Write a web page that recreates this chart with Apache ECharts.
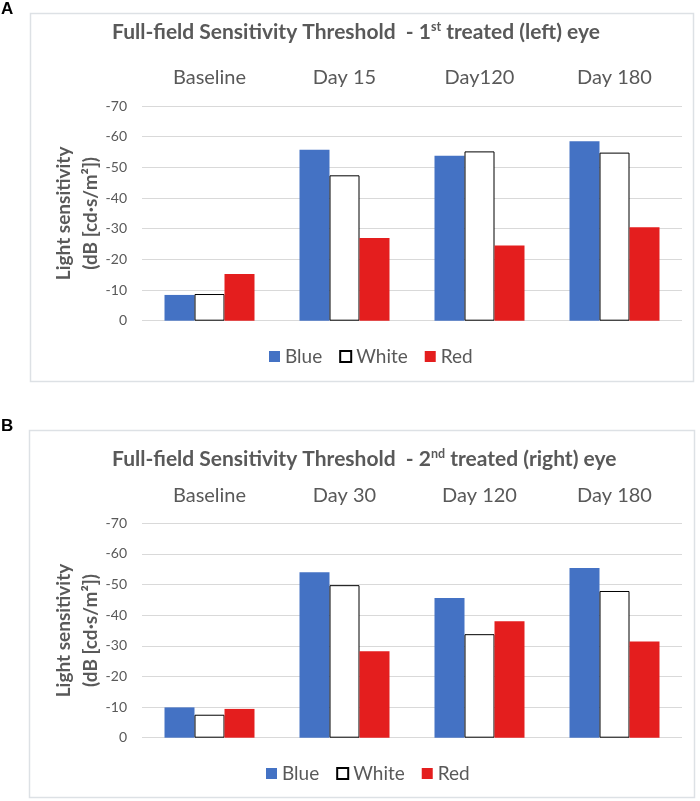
<!DOCTYPE html>
<html>
<head>
<meta charset="utf-8">
<script src="https://cdn.jsdelivr.net/npm/echarts@6/dist/echarts.min.js"></script>
<style>
html,body{margin:0;padding:0;background:#fff;}
#chart{width:700px;height:801px;}
</style>
</head>
<body>
<div id="chart"></div>
<script>
// ---- Data ----
const seriesNames = ['Blue', 'White', 'Red'];
const categoriesA = ['Baseline', 'Day 15', 'Day120', 'Day 180'];
const blueA  = [-8.4, -55.7, -53.8, -58.5];
const whiteA = [-8.7, -47.4, -55.2, -54.8];
const redA   = [-15.2, -27.0, -24.5, -30.5];
const categoriesB = ['Baseline', 'Day 30', 'Day 120', 'Day 180'];
const blueB  = [-9.9, -54.0, -45.6, -55.4];
const whiteB = [-7.5, -49.8, -33.8, -47.9];
const redB   = [-9.4, -28.2, -38.0, -31.4];
const yTicks = [-70, -60, -50, -40, -30, -20, -10, 0];
const titleA = ['Full-field Sensitivity Threshold  - 1', 'st', ' treated (left) eye'];
const titleB = ['Full-field Sensitivity Threshold  - 2', 'nd', ' treated (right) eye'];
const yName = 'Light sensitivity\n(dB [cd·s/m²])';

// ---- Styles ----
const FONT = 'Lato, "Open Sans", sans-serif';
const TXT = '#595959';
const GRID_C = '#d9d9d9';
const colors = { Blue: '#4472c4', White: '#ffffff', Red: '#e41e1e' };

const chart = echarts.init(document.getElementById('chart'), null, { renderer: 'canvas' });

function titleCfg(parts, top) {
  return {
    left: 107, top: top,
    text: '{b|' + parts[0] + '}{s|' + parts[1] + '}{b|' + parts[2] + '}',
    textStyle: {
      rich: {
        b: { fontFamily: FONT, fontWeight: 'bold', fontSize: 21, color: TXT, lineHeight: 25 },
        s: { fontFamily: FONT, fontWeight: 'bold', fontSize: 12.5, color: TXT, verticalAlign: 'top', lineHeight: 14 }
      }
    }
  };
}

function xAxisCfg(cats, gi) {
  return {
    type: 'category', gridIndex: gi, position: 'top', data: cats,
    axisLine: { show: false }, axisTick: { show: false },
    axisLabel: { fontFamily: FONT, fontSize: 20, color: TXT, margin: 18 }
  };
}
function yAxisCfg(gi) {
  return {
    type: 'value', gridIndex: gi, min: yTicks[0], max: yTicks[yTicks.length - 1], interval: 10, inverse: true,
    axisLine: { show: false }, axisTick: { show: false },
    splitLine: { lineStyle: { color: GRID_C, width: 1 } },
    axisLabel: { fontFamily: FONT, fontSize: 14, color: TXT, margin: 15 },
    name: yName, nameLocation: 'middle', nameGap: 38, nameRotate: 90, nameMoveOverlap: false,
    nameTextStyle: { fontFamily: FONT, fontWeight: 'bold', fontSize: 19, color: TXT, lineHeight: 27 }
  };
}
function barSeries(name, data, gi) {
  const isWhite = name === 'White';
  return {
    type: 'bar', name: name, data: data, xAxisIndex: gi, yAxisIndex: gi,
    barWidth: 30, barGap: '0%',
    itemStyle: isWhite ? { color: colors[name], borderColor: '#000', borderWidth: 1 } : { color: colors[name] },
    emphasis: { disabled: true }
  };
}
function legendCfg(left, top) {
  return {
    left: left, top: top, icon: 'rect', itemWidth: 11, itemHeight: 11, itemGap: 17,
    data: seriesNames,
    textStyle: { fontFamily: FONT, fontSize: 19, color: TXT }
  };
}

const option = {
  animation: false,
  backgroundColor: '#fff',
  title: [titleCfg(titleA, 15), titleCfg(titleB, 442)],
  legend: [legendCfg(264, 342), legendCfg(261, 759)],
  grid: [
    { left: 142, width: 540, top: 106, height: 214.7 },
    { left: 142, width: 540, top: 523.3, height: 214.4 }
  ],
  xAxis: [xAxisCfg(categoriesA, 0), xAxisCfg(categoriesB, 1)],
  yAxis: [yAxisCfg(0), yAxisCfg(1)],
  series: [
    barSeries('Blue', blueA, 0), barSeries('White', whiteA, 0), barSeries('Red', redA, 0),
    barSeries('Blue', blueB, 1), barSeries('White', whiteB, 1), barSeries('Red', redB, 1)
  ],
  graphic: [
    { type: 'rect', shape: { x: 30.5, y: 13.5, width: 663, height: 368 }, style: { fill: null, stroke: '#dde1e5', lineWidth: 1.5 }, z: -1, silent: true },
    { type: 'rect', shape: { x: 29.5, y: 430.5, width: 665, height: 367 }, style: { fill: null, stroke: '#dde1e5', lineWidth: 1.5 }, z: -1, silent: true },
    { type: 'text', left: 1, top: 1, style: { text: 'A', fontFamily: 'Arial, "Liberation Sans", sans-serif', fontWeight: 'bold', fontSize: 17, fill: '#000' }, silent: true },
    { type: 'text', left: 1, top: 418, style: { text: 'B', fontFamily: 'Arial, "Liberation Sans", sans-serif', fontWeight: 'bold', fontSize: 17, fill: '#000' }, silent: true }
  ]
};
chart.setOption(option);
</script>
</body>
</html>
